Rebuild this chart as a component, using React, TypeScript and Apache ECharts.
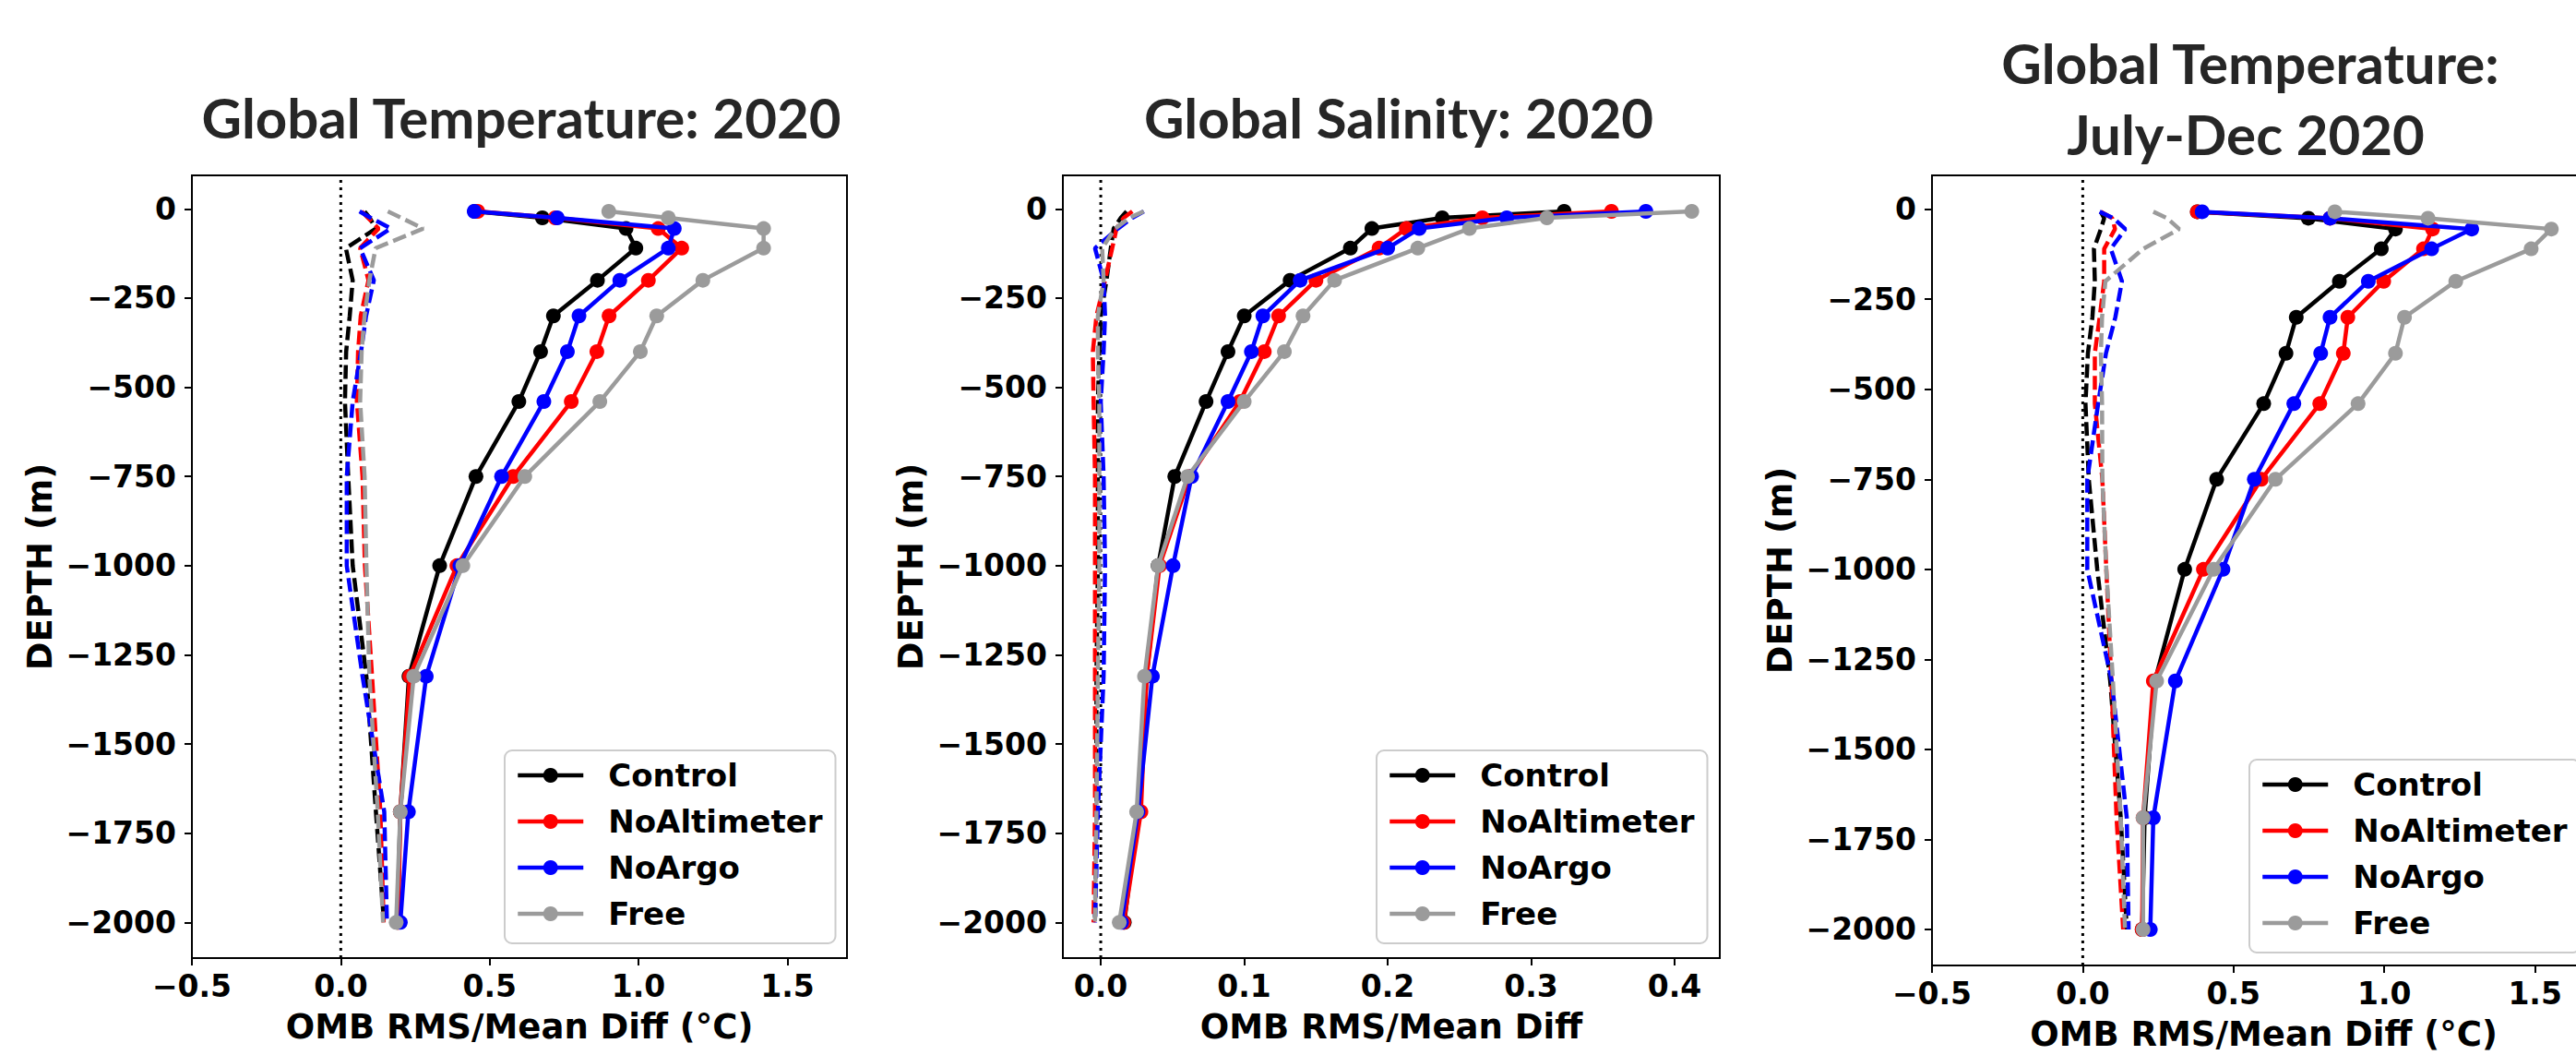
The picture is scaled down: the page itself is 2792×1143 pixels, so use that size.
import React, { useEffect, useRef } from "react";
import * as echarts from "echarts";

const FONT = "DejaVu Sans";
const TITLE_FONT = "Lato";

const depths = [-7, -25, -55, -110, -200, -300, -400, -540, -750, -1000, -1310, -1690, -2000];
const yTicks = [0, -250, -500, -750, -1000, -1250, -1500, -1750, -2000];
const xTicksTemp = [-0.5, 0, 0.5, 1.0, 1.5];
const xTicksSal = [0, 0.1, 0.2, 0.3, 0.4];
const names = ["Control", "NoAltimeter", "NoArgo", "Free"];
const colors = ["#000000", "#ff0000", "#0000ff", "#9b9b9b"];

// Panel 1: Global Temperature 2020 (RMS, solid)
const t20RmsControl = [0.45, 0.677, 0.958, 0.991, 0.862, 0.714, 0.671, 0.598, 0.454, 0.332, 0.229, 0.2, 0.19];
const t20RmsNoAlt = [0.46, 0.72, 1.066, 1.145, 1.033, 0.901, 0.86, 0.774, 0.579, 0.39, 0.232, 0.2, 0.193];
const t20RmsNoArgo = [0.448, 0.727, 1.12, 1.1, 0.937, 0.8, 0.761, 0.682, 0.54, 0.4, 0.287, 0.227, 0.2];
const t20RmsFree = [0.9, 1.1, 1.42, 1.42, 1.216, 1.061, 1.006, 0.87, 0.618, 0.41, 0.245, 0.2, 0.186];
// Panel 1 (mean diff, dashed)
const t20MeanControl = [0.08, 0.097, 0.118, 0.017, 0.04, 0.03, 0.018, 0.014, 0.025, 0.04, 0.086, 0.118, 0.145];
const t20MeanNoAlt = [0.07, 0.091, 0.127, 0.065, 0.093, 0.067, 0.058, 0.054, 0.073, 0.081, 0.105, 0.133, 0.144];
const t20MeanNoArgo = [0.063, 0.1, 0.168, 0.065, 0.111, 0.085, 0.068, 0.04, 0.02, 0.02, 0.073, 0.146, 0.155];
const t20MeanFree = [0.158, 0.203, 0.277, 0.117, 0.096, 0.08, 0.07, 0.065, 0.08, 0.086, 0.096, 0.124, 0.142];

// Panel 2: Global Salinity 2020
const s20RmsControl = [0.323, 0.238, 0.189, 0.174, 0.132, 0.1, 0.0887, 0.0734, 0.0516, 0.04, 0.032, 0.026, 0.0164];
const s20RmsNoAlt = [0.356, 0.266, 0.213, 0.194, 0.15, 0.124, 0.114, 0.097, 0.062, 0.041, 0.032, 0.028, 0.016];
const s20RmsNoArgo = [0.38, 0.283, 0.222, 0.2, 0.139, 0.113, 0.105, 0.0887, 0.0633, 0.0504, 0.036, 0.026, 0.0145];
const s20RmsFree = [0.412, 0.311, 0.257, 0.221, 0.163, 0.141, 0.128, 0.1, 0.0605, 0.04, 0.0305, 0.025, 0.0129];
const s20MeanControl = [0.018, 0.014, 0.009, 0.007, 0.004, 0.0, -0.001, -0.002, -0.002, -0.002, -0.003, -0.003, -0.004];
const s20MeanNoAlt = [0.022, 0.016, 0.011, 0.008, 0.003, -0.003, -0.0055, -0.005, -0.004, -0.004, -0.004, -0.004, -0.005];
const s20MeanNoArgo = [0.03, 0.022, 0.012, -0.004, 0.002, 0.003, 0.002, 0.0, 0.002, 0.003, 0.002, -0.002, -0.004];
const s20MeanFree = [0.03, 0.02, 0.01, 0.001, 0.002, -0.002, -0.002, -0.001, -0.001, -0.001, -0.002, -0.003, -0.004];

// Panel 3: Global Temperature July-Dec 2020
const tjdRmsControl = [0.38, 0.748, 1.037, 0.99, 0.851, 0.708, 0.674, 0.6, 0.444, 0.338, 0.239, 0.205, 0.197];
const tjdRmsNoAlt = [0.38, 0.82, 1.16, 1.13, 0.998, 0.879, 0.864, 0.786, 0.592, 0.4, 0.234, 0.2, 0.197];
const tjdRmsNoArgo = [0.396, 0.82, 1.29, 1.157, 0.947, 0.82, 0.789, 0.7, 0.569, 0.465, 0.307, 0.234, 0.224];
const tjdRmsFree = [0.836, 1.145, 1.554, 1.487, 1.237, 1.067, 1.037, 0.913, 0.639, 0.434, 0.245, 0.2, 0.2];
const tjdMeanControl = [0.06, 0.071, 0.06, 0.037, 0.04, 0.032, 0.017, 0.009, 0.02, 0.048, 0.091, 0.126, 0.146];
const tjdMeanNoAlt = [0.06, 0.098, 0.107, 0.071, 0.071, 0.056, 0.04, 0.04, 0.065, 0.078, 0.095, 0.112, 0.134];
const tjdMeanNoArgo = [0.056, 0.102, 0.141, 0.093, 0.13, 0.108, 0.077, 0.051, 0.015, 0.015, 0.096, 0.146, 0.152];
const tjdMeanFree = [0.234, 0.28, 0.32, 0.2, 0.075, 0.064, 0.06, 0.064, 0.065, 0.078, 0.1, 0.126, 0.14];

const panelRms = [
  [t20RmsControl, t20RmsNoAlt, t20RmsNoArgo, t20RmsFree],
  [s20RmsControl, s20RmsNoAlt, s20RmsNoArgo, s20RmsFree],
  [tjdRmsControl, tjdRmsNoAlt, tjdRmsNoArgo, tjdRmsFree],
];
const panelMean = [
  [t20MeanControl, t20MeanNoAlt, t20MeanNoArgo, t20MeanFree],
  [s20MeanControl, s20MeanNoAlt, s20MeanNoArgo, s20MeanFree],
  [tjdMeanControl, tjdMeanNoAlt, tjdMeanNoArgo, tjdMeanFree],
];

const Y_MIN = -2100;
const Y_MAX = 94;

const minus = (s: string) => s.replace("-", "\u2212");
const fmtX = (v: number) => minus(Math.abs(v) < 1e-9 ? "0.0" : v.toFixed(1));
const fmtY = (v: number) => minus(String(Math.round(v)));

const labelStyle = { fontFamily: FONT, fontWeight: "bold", fontSize: 33, color: "#000" };
const nameStyle = { fontFamily: FONT, fontWeight: "bold", fontSize: 37, color: "#000" };

function makeX(idx: number, min: number, max: number, ticks: number[], name: string) {
  return {
    type: "value",
    gridIndex: idx,
    min,
    max,
    position: "bottom",
    axisLine: { show: false, onZero: false },
    splitLine: { show: false },
    axisTick: { show: true, length: 8, lineStyle: { width: 2, color: "#000" }, customValues: ticks },
    axisLabel: { ...labelStyle, customValues: ticks, formatter: fmtX, margin: 14 },
    name,
    nameLocation: "middle",
    nameGap: 56,
    nameTextStyle: nameStyle,
  };
}

function makeY(idx: number) {
  return {
    type: "value",
    gridIndex: idx,
    min: Y_MIN,
    max: Y_MAX,
    position: "left",
    axisLine: { show: false, onZero: false },
    splitLine: { show: false },
    axisTick: { show: true, length: 8, lineStyle: { width: 2, color: "#000" }, customValues: yTicks },
    axisLabel: { ...labelStyle, customValues: yTicks, formatter: fmtY, margin: 17 },
    name: "DEPTH (m)",
    nameLocation: "middle",
    nameRotate: 90,
    nameGap: 146,
    nameTextStyle: nameStyle,
  };
}

function makeLegend(left: number, top: number) {
  return {
    show: true,
    data: names,
    orient: "vertical",
    left,
    top,
    itemWidth: 71,
    itemHeight: 20,
    itemGap: 6,
    padding: [5, 14, 10, 12],
    backgroundColor: "#ffffff",
    borderColor: "#cccccc",
    borderWidth: 2,
    borderRadius: 8,
    lineStyle: { width: 4.5 },
    textStyle: {
      fontFamily: FONT,
      fontWeight: "bold",
      fontSize: 34,
      color: "#000",
      lineHeight: 44,
      padding: [0, 0, 0, 22],
    },
    selectedMode: false,
  };
}

function buildSeries() {
  const series: any[] = [];
  for (let p = 0; p < 3; p++) {
    series.push({
      type: "line",
      name: "zero" + p,
      xAxisIndex: p,
      yAxisIndex: p,
      data: [
        [0, Y_MIN],
        [0, Y_MAX],
      ],
      symbol: "none",
      silent: true,
      lineStyle: { color: "#000", width: 3, type: [3, 5] },
      z: 1,
    });
    for (let s = 0; s < 4; s++) {
      series.push({
        type: "line",
        name: names[s],
        xAxisIndex: p,
        yAxisIndex: p,
        data: depths.map((d, i) => [panelRms[p][s][i], d]),
        symbol: "circle",
        symbolSize: 16,
        showAllSymbol: true,
        color: colors[s],
        itemStyle: { color: colors[s], borderWidth: 0 },
        lineStyle: { color: colors[s], width: 4.5 },
        z: 3 + s,
      });
      series.push({
        type: "line",
        name: names[s] + " mean",
        xAxisIndex: p,
        yAxisIndex: p,
        data: depths.map((d, i) => [panelMean[p][s][i], d]),
        symbol: "none",
        color: colors[s],
        lineStyle: { color: colors[s], width: 4.5, type: [15, 6] },
        z: 2,
      });
    }
  }
  return series;
}

export default function App() {
  const ref = useRef<HTMLDivElement>(null);
  useEffect(() => {
    if (!ref.current) return;
    const chart = echarts.init(ref.current, undefined, { renderer: "svg" });
    const gridBase = {
      show: true,
      borderColor: "#000",
      borderWidth: 2,
      backgroundColor: "transparent",
      containLabel: false,
      outerBoundsMode: "none",
    };
    const titleStyle = { fontFamily: TITLE_FONT, fontWeight: "bold", fontSize: 60, fill: "#262626", align: "center", verticalAlign: "middle" };
    chart.setOption({
      animation: false,
      backgroundColor: "#ffffff",
      textStyle: { fontFamily: FONT },
      grid: [
        { ...gridBase, left: 208, top: 190, width: 710, height: 848 },
        { ...gridBase, left: 1152, top: 190, width: 712, height: 848 },
        { ...gridBase, left: 2094, top: 190, width: 719, height: 856 },
      ],
      xAxis: [
        makeX(0, -0.5, 1.7, xTicksTemp, "OMB RMS/Mean Diff (\u00b0C)"),
        makeX(1, -0.0264, 0.4315, xTicksSal, "OMB RMS/Mean Diff"),
        makeX(2, -0.5, 1.7, xTicksTemp, "OMB RMS/Mean Diff (\u00b0C)"),
      ],
      yAxis: [makeY(0), makeY(1), makeY(2)],
      legend: [makeLegend(547, 813), makeLegend(1492, 813), makeLegend(2438, 823)],
      graphic: [
        { type: "text", x: 565, y: 127, style: { ...titleStyle, text: "Global Temperature: 2020" } },
        { type: "text", x: 1516, y: 127, style: { ...titleStyle, text: "Global Salinity: 2020" } },
        { type: "text", x: 2439, y: 68, style: { ...titleStyle, text: "Global Temperature:" } },
        { type: "text", x: 2434, y: 145, style: { ...titleStyle, text: "July-Dec 2020" } },
      ],
      series: buildSeries(),
    });
    return () => chart.dispose();
  }, []);
  return (
    <div
      ref={ref}
      style={{ position: "absolute", left: 0, top: 0, width: 2792, height: 1143, background: "#fff" }}
    />
  );
}
